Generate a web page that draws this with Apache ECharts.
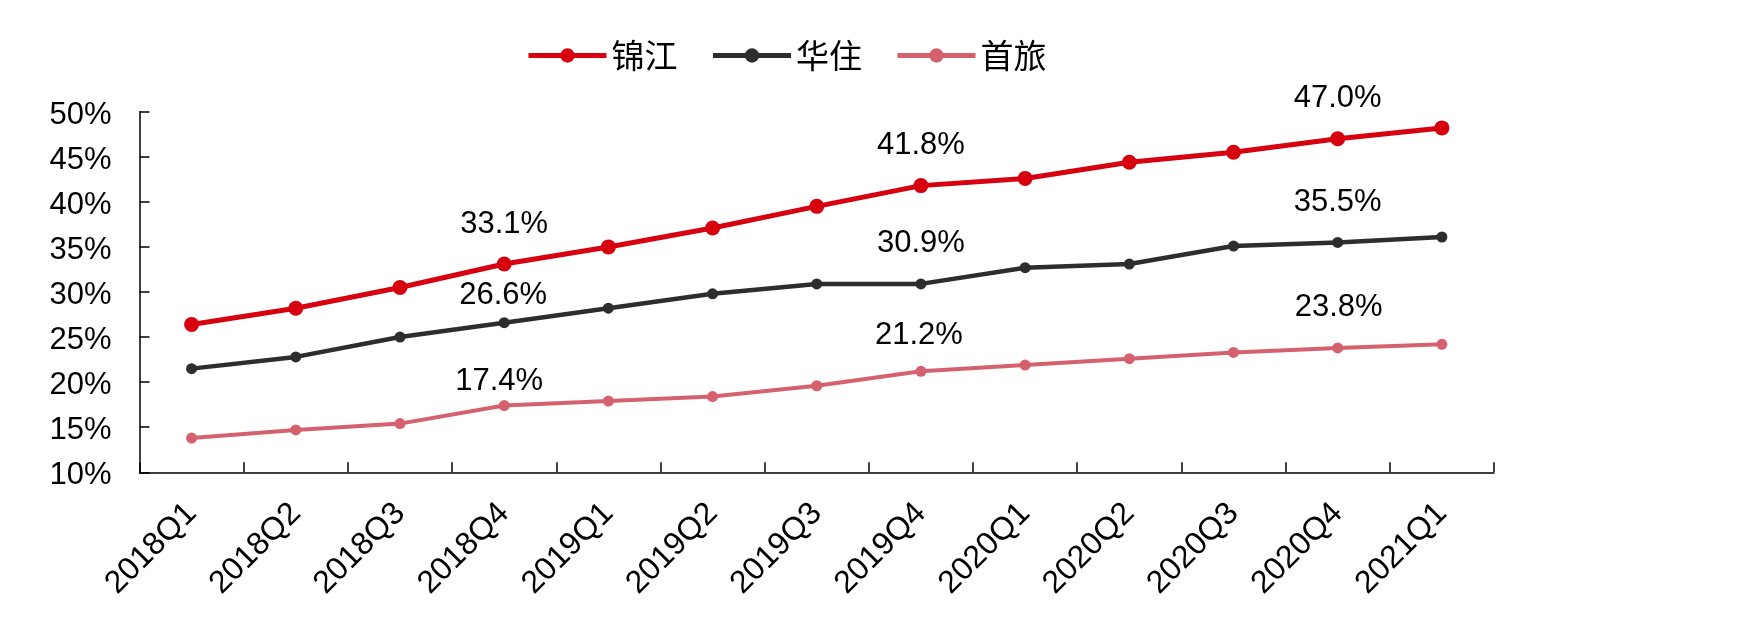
<!DOCTYPE html>
<html><head><meta charset="utf-8">
<script src="https://cdn.jsdelivr.net/npm/echarts@6/dist/echarts.min.js"></script>
<style>html,body{margin:0;padding:0;background:#fff}#c{width:1751px;height:634px}</style>
</head><body><div id="c"></div>
<script>
var categories = ['2018Q1','2018Q2','2018Q3','2018Q4','2019Q1','2019Q2','2019Q3','2019Q4','2020Q1','2020Q2','2020Q3','2020Q4','2021Q1'];
var jinjiang = [26.4, 28.2, 30.5, 33.1, 35.0, 37.1, 39.5, 41.8, 42.6, 44.4, 45.5, 47.0, 48.2];
var huazhu   = [21.5, 22.8, 25.0, 26.6, 28.2, 29.8, 30.9, 30.9, 32.7, 33.1, 35.1, 35.5, 36.1];
var shoulv   = [13.8, 14.7, 15.4, 17.4, 17.9, 18.4, 19.6, 21.2, 21.9, 22.6, 23.3, 23.8, 24.2];
var seriesNames = ['锦江','华住','首旅'];
var labelIdx = [3, 7, 11];
var yTicks = {min: 10, max: 50, interval: 5};

var labelOffsets = [
  {3: [0,-40], 7: [0,-40], 11: [0,-40]},
  {3: [-1,-27], 7: [0,-40], 11: [0,-40]},
  {3: [-5,-24], 7: [-2,-36], 11: [1,-40]}
];
var font = '"Liberation Sans", Arial, sans-serif';
function build(vals, si) {
  return vals.map(function(v, i) {
    var o = {value: v};
    if (labelIdx.indexOf(i) >= 0) {
      o.label = {show: true, position: 'inside', offset: labelOffsets[si][i],
        formatter: function(p){ return p.value.toFixed(1) + '%'; },
        fontSize: 31, color: '#000', fontFamily: font};
    }
    return o;
  });
}
var colors = ['#d7000f', '#2d2d2d', '#d6616e'];
var widths = [5, 4.5, 4];
var sizes = [15, 11, 11];
var allData = [jinjiang, huazhu, shoulv];
var chart = echarts.init(document.getElementById('c'));
chart.setOption({
  animation: false,
  textStyle: {fontFamily: font},
  legend: {
    left: 521, top: 34,
    itemWidth: 78, itemHeight: 18, itemGap: 33,
    textStyle: {fontSize: 33, color: '#000', fontFamily: '"Noto Sans CJK SC", sans-serif'},
    data: seriesNames.map(function(n, si) {
      return {name: n, lineStyle: {width: 5, color: colors[si]}, itemStyle: {color: colors[si]}};
    })
  },
  grid: {left: 139.5, right: 257, top: 111.7, bottom: 161.7, containLabel: false},
  xAxis: {
    type: 'category', data: categories,
    axisLine: {lineStyle: {color: '#000', width: 1.5}},
    axisTick: {show: true, inside: true, length: 10, alignWithLabel: false, interval: 0, lineStyle: {color: '#000', width: 1.5}},
    axisLabel: {rotate: 45, fontSize: 32, color: '#000', margin: 36, interval: 0, fontFamily: font}
  },
  yAxis: {
    type: 'value', min: yTicks.min, max: yTicks.max, interval: yTicks.interval,
    axisLine: {show: true, lineStyle: {color: '#000', width: 1.5}},
    axisTick: {show: true, inside: true, length: 10, lineStyle: {color: '#000', width: 1.5}},
    splitLine: {show: false},
    axisLabel: {
      formatter: function(v){ return '{t|' + v + '%}'; },
      color: '#000', margin: 28,
      rich: {t: {fontSize: 31, color: '#000', fontFamily: font, padding: [7, 0, 0, 0]}}
    }
  },
  series: allData.map(function(d, si) {
    return {
      name: seriesNames[si], type: 'line', data: build(d, si),
      symbol: 'circle', symbolSize: sizes[si],
      itemStyle: {color: colors[si]},
      lineStyle: {color: colors[si], width: widths[si]},
      z: 3 - si
    };
  })
});
</script></body></html>
